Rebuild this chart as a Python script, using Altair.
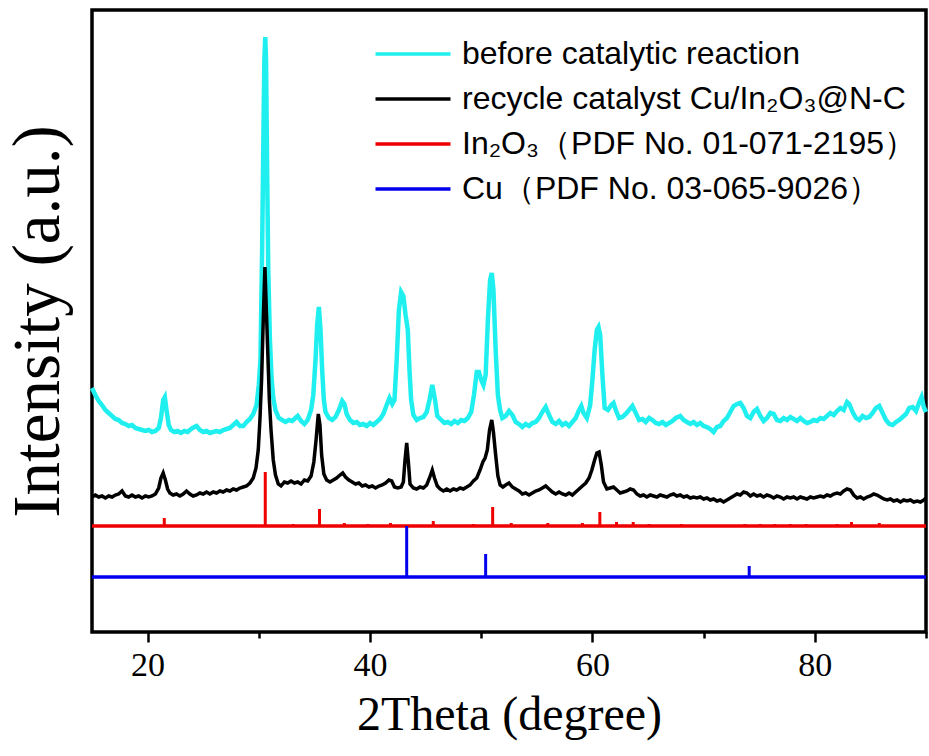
import altair as alt
import pandas as pd

# ---------------- data ----------------
series_names = [
    "before catalytic reaction",
    "recycle catalyst Cu/In\u2082O\u2083@N-C",
    "In\u2082O\u2083\uff08PDF No. 01-071-2195\uff09",
    "Cu\uff08PDF No. 03-065-9026\uff09",
]
series_colors = ["#1FEFEF", "#000000", "#EE0000", "#0000EE"]

theta_range = [15, 90]
major_ticks = [20, 40, 60, 80]
minor_ticks = [30, 50, 70, 90]

before_x = [15.0, 15.3, 15.6, 15.9, 16.2, 16.5, 16.8, 17.1, 17.4, 17.7, 18.0, 18.3, 18.6, 18.9, 19.2, 19.5, 19.8, 20.1, 20.4, 20.7,
            21.0, 21.2, 21.4, 21.55, 21.7, 21.9, 22.1, 22.4, 22.7, 23.0, 23.3, 23.6, 23.9, 24.2, 24.4, 24.7, 25.0, 25.3, 25.6, 25.9,
            26.2, 26.5, 26.8, 27.1, 27.4, 27.7, 28.0, 28.3, 28.6, 28.9, 29.2, 29.5, 29.8, 30.0, 30.15, 30.3, 30.4, 30.5, 30.58, 30.65,
            30.75, 30.85, 31.0, 31.15, 31.3, 31.5, 31.8, 32.1, 32.4, 32.7, 33.0, 33.3, 33.5, 33.8, 34.1, 34.4, 34.7, 34.9, 35.1, 35.25,
            35.4, 35.55, 35.7, 35.85, 36.0, 36.3, 36.6, 36.9, 37.2, 37.5, 37.7, 37.9, 38.2, 38.5, 38.8, 39.1, 39.4, 39.7, 40.0, 40.3,
            40.6, 40.9, 41.2, 41.5, 41.75, 42.0, 42.2, 42.4, 42.6, 42.8, 43.0, 43.2, 43.4, 43.55, 43.7, 43.9, 44.2, 44.5, 44.8, 45.1,
            45.35, 45.6, 45.85, 46.05, 46.4, 46.7, 47.0, 47.3, 47.6, 47.9, 48.2, 48.5, 48.8, 49.1, 49.35, 49.6, 49.8, 50.0, 50.2, 50.4,
            50.6, 50.8, 50.95, 51.1, 51.3, 51.5, 51.7, 51.9, 52.2, 52.5, 52.8, 53.1, 53.4, 53.7, 54.0, 54.3, 54.6, 54.9, 55.2, 55.5,
            55.8, 56.1, 56.4, 56.7, 57.0, 57.3, 57.6, 57.9, 58.2, 58.5, 58.8, 59.0, 59.2, 59.5, 59.8, 60.0, 60.2, 60.4, 60.55, 60.7,
            60.9, 61.1, 61.4, 61.7, 61.9, 62.1, 62.4, 62.7, 63.0, 63.3, 63.6, 63.9, 64.2, 64.5, 64.8, 65.1, 65.4, 65.7, 66.0, 66.3,
            66.6, 66.9, 67.2, 67.5, 67.9, 68.2, 68.5, 68.8, 69.1, 69.4, 69.7, 70.0, 70.3, 70.6, 70.9, 71.2, 71.5, 71.8, 72.1, 72.4,
            72.7, 73.0, 73.3, 73.6, 73.9, 74.2, 74.5, 74.8, 75.1, 75.4, 75.7, 76.0, 76.3, 76.6, 76.9, 77.2, 77.5, 77.8, 78.1, 78.4,
            78.7, 79.0, 79.3, 79.6, 79.9, 80.2, 80.5, 80.8, 81.1, 81.4, 81.7, 82.0, 82.3, 82.6, 82.9, 83.1, 83.4, 83.7, 84.0, 84.3,
            84.6, 84.9, 85.2, 85.5, 85.8, 86.1, 86.4, 86.7, 87.0, 87.3, 87.6, 87.9, 88.2, 88.5, 88.8, 89.1, 89.4, 89.6, 89.8, 90.0]
before_y = [244, 237, 231, 227, 222, 219, 216, 213, 212, 209, 208, 206, 207, 204, 203, 202, 201, 202, 200, 201,
            204, 214, 232, 235, 222, 207, 202, 200, 201, 199, 201, 200, 203, 205, 206, 202, 200, 201, 199, 200,
            201, 200, 202, 203, 204, 207, 210, 206, 206, 210, 213, 218, 227, 247, 272, 382, 482, 572, 595, 572,
            462, 362, 292, 254, 234, 222, 214, 212, 210, 212, 211, 214, 216, 211, 208, 212, 222, 237, 272, 307,
            325, 302, 262, 232, 220, 214, 212, 215, 222, 231, 228, 218, 212, 209, 210, 207, 208, 206, 209, 207,
            210, 213, 218, 227, 234, 228, 232, 272, 322, 340, 336, 317, 302, 262, 232, 217, 212, 214, 215, 220,
            232, 247, 232, 216, 212, 209, 210, 208, 211, 209, 212, 211, 214, 220, 237, 260, 260, 252, 247, 257,
            312, 352, 359, 342, 282, 237, 222, 214, 216, 221, 217, 210, 208, 205, 208, 206, 209, 210, 214, 220,
            225, 217, 210, 208, 211, 207, 209, 206, 210, 214, 222, 226, 219, 214, 227, 252, 282, 302, 305, 297,
            257, 224, 222, 227, 229, 222, 214, 215, 218, 222, 226, 219, 212, 213, 210, 214, 212, 209, 208, 210,
            207, 209, 211, 214, 216, 212, 210, 208, 210, 207, 209, 206, 205, 203, 200, 205, 206, 211, 214, 220,
            226, 228, 229, 224, 216, 214, 220, 223, 216, 211, 214, 219, 218, 212, 211, 214, 212, 215, 213, 211,
            214, 211, 209, 210, 212, 211, 214, 213, 216, 219, 217, 221, 224, 222, 230, 228, 220, 214, 212, 216,
            214, 215, 219, 224, 226, 219, 212, 208, 207, 210, 212, 215, 218, 224, 225, 221, 230, 235, 225, 220]

recycle_x = [15.0, 15.3, 15.6, 15.9, 16.2, 16.5, 16.8, 17.1, 17.4, 17.7, 18.0, 18.3, 18.6, 18.9, 19.2, 19.5, 19.8, 20.1, 20.4, 20.7,
             21.0, 21.2, 21.4, 21.6, 21.8, 22.0, 22.3, 22.6, 22.9, 23.2, 23.5, 23.8, 24.1, 24.4, 24.7, 25.0, 25.3, 25.6, 25.9, 26.2,
             26.5, 26.8, 27.1, 27.4, 27.7, 28.0, 28.3, 28.6, 28.9, 29.2, 29.5, 29.75, 29.95, 30.1, 30.25, 30.4, 30.55, 30.65, 30.8, 30.95,
             31.1, 31.3, 31.5, 31.75, 32.0, 32.3, 32.6, 32.9, 33.2, 33.5, 33.8, 34.1, 34.4, 34.7, 34.95, 35.15, 35.35, 35.5, 35.65, 35.85,
             36.1, 36.4, 36.7, 37.0, 37.3, 37.55, 37.8, 38.1, 38.4, 38.7, 39.0, 39.3, 39.6, 39.9, 40.2, 40.5, 40.8, 41.1, 41.4, 41.7,
             41.95, 42.2, 42.5, 42.8, 43.0, 43.15, 43.3, 43.45, 43.6, 43.9, 44.2, 44.5, 44.8, 45.1, 45.35, 45.6, 45.8, 46.05, 46.3, 46.6,
             46.9, 47.2, 47.5, 47.8, 48.1, 48.4, 48.7, 49.0, 49.3, 49.6, 49.9, 50.15, 50.35, 50.55, 50.75, 50.95, 51.1, 51.3, 51.5, 51.7,
             51.95, 52.2, 52.5, 52.8, 53.1, 53.4, 53.7, 54.0, 54.3, 54.6, 54.9, 55.2, 55.5, 55.8, 56.1, 56.4, 56.7, 57.0, 57.3, 57.6,
             57.9, 58.2, 58.5, 58.8, 59.1, 59.4, 59.7, 59.95, 60.2, 60.4, 60.6, 60.8, 61.0, 61.3, 61.6, 61.9, 62.2, 62.5, 62.8, 63.1,
             63.4, 63.7, 64.0, 64.3, 64.6, 64.9, 65.2, 65.5, 65.8, 66.1, 66.4, 66.7, 67.0, 67.3, 67.6, 67.9, 68.2, 68.5, 68.8, 69.1,
             69.4, 69.7, 70.0, 70.3, 70.6, 70.9, 71.2, 71.5, 71.8, 72.1, 72.4, 72.7, 73.0, 73.3, 73.6, 73.9, 74.2, 74.5, 74.8, 75.1,
             75.4, 75.7, 76.0, 76.3, 76.6, 76.9, 77.2, 77.5, 77.8, 78.1, 78.4, 78.7, 79.0, 79.3, 79.6, 79.9, 80.2, 80.5, 80.8, 81.1,
             81.4, 81.7, 82.0, 82.3, 82.6, 82.9, 83.2, 83.5, 83.8, 84.1, 84.4, 84.7, 85.0, 85.3, 85.6, 85.9, 86.2, 86.5, 86.8, 87.1,
             87.4, 87.7, 88.0, 88.3, 88.6, 88.9, 89.2, 89.5, 89.8, 90.0]
recycle_y = [135, 137, 135, 136, 134, 136, 135, 137, 138, 141, 136, 135, 137, 135, 136, 134, 136, 135, 136, 138,
             144, 154, 159, 152, 143, 139, 137, 138, 136, 138, 141, 138, 136, 137, 139, 138, 140, 138, 140, 139,
             141, 140, 142, 141, 143, 142, 144, 145, 146, 149, 154, 164, 182, 212, 252, 312, 365, 332, 282, 232,
             202, 172, 157, 148, 146, 150, 149, 151, 149, 150, 148, 152, 151, 156, 170, 192, 218, 207, 177, 158,
             152, 150, 152, 154, 157, 159, 155, 152, 150, 148, 149, 146, 147, 145, 146, 144, 146, 147, 149, 152,
             151, 145, 144, 145, 150, 172, 189, 170, 148, 144, 143, 145, 144, 147, 154, 162, 154, 146, 143, 141,
             143, 141, 143, 142, 144, 143, 145, 147, 151, 154, 162, 170, 174, 182, 202, 212, 200, 177, 156, 147,
             145, 147, 149, 145, 143, 141, 138, 139, 137, 139, 141, 142, 144, 146, 143, 140, 138, 140, 138, 137,
             139, 137, 140, 143, 146, 149, 154, 162, 172, 179, 180, 167, 150, 143, 144, 145, 142, 139, 140, 141,
             143, 142, 138, 136, 137, 135, 137, 136, 135, 137, 136, 135, 137, 138, 136, 137, 135, 136, 134, 135,
             134, 135, 133, 134, 132, 133, 131, 132, 130, 132, 134, 136, 138, 137, 140, 139, 136, 138, 136, 137,
             135, 137, 136, 134, 136, 135, 133, 135, 134, 135, 133, 135, 134, 133, 135, 134, 135, 136, 135, 137,
             136, 138, 139, 138, 141, 143, 142, 137, 134, 135, 133, 135, 136, 138, 137, 135, 133, 132, 133, 131,
             132, 130, 132, 131, 132, 130, 131, 130, 132, 134]

in2o3_base = 106
in2o3_pos = [21.5, 30.58, 33.1, 35.46, 37.69, 39.8, 41.84, 45.69, 49.3, 51.03, 52.7, 55.99, 59.1, 60.67, 62.17,
             63.67, 65.1, 68.0, 73.7, 75.1, 76.4, 77.8, 79.2, 82.0, 83.3, 85.8]
in2o3_h = [8, 54, 2, 17, 3, 2, 3, 5, 2, 19, 3, 3, 3, 14, 4, 4, 2, 2, 2, 2, 2, 2, 2, 2, 4, 3]

cu_base = 55
cu_pos = [43.3, 50.4, 74.1]
cu_h = [51, 23, 11]

# ---------------- tables ----------------
curves = pd.concat([
    pd.DataFrame({"theta": before_x, "intensity": before_y, "series": series_names[0]}),
    pd.DataFrame({"theta": recycle_x, "intensity": recycle_y, "series": series_names[1]}),
])
sticks = pd.concat([
    pd.DataFrame({"theta": in2o3_pos, "base": in2o3_base,
                  "top": [in2o3_base + h for h in in2o3_h], "series": series_names[2]}),
    pd.DataFrame({"theta": cu_pos, "base": cu_base,
                  "top": [cu_base + h for h in cu_h], "series": series_names[3]}),
])
baselines = pd.DataFrame({
    "x1": [theta_range[0]] * 2, "x2": [theta_range[1]] * 2,
    "base": [in2o3_base, cu_base], "series": series_names[2:],
})

# ---------------- encodings ----------------
xscale = alt.Scale(domain=theta_range, nice=False, zero=False)
yscale = alt.Scale(domain=[0, 622], nice=False, zero=True)

serif = "Liberation Serif"
major_axis = alt.Axis(values=major_ticks, title="2Theta (degree)", orient="bottom",
                      domain=False, grid=False, ticks=True, tickSize=10, tickWidth=2.5, tickColor="black",
                      labelFont=serif, labelFontSize=34, labelColor="black", labelPadding=6,
                      titleFont=serif, titleFontSize=48, titleFontWeight="normal", titleColor="black",
                      titlePadding=9)
minor_axis = alt.Axis(values=minor_ticks, title=None, orient="bottom", labels=False,
                      domain=False, grid=False, ticks=True, tickSize=6, tickWidth=2.5, tickColor="black")
y_axis = alt.Axis(title="Intensity (a.u.)", labels=False, ticks=False, domain=False, grid=False,
                  titleFont=serif, titleFontSize=67, titleFontWeight="normal", titleColor="black",
                  titlePadding=20)

# long horizontal line symbol (3x the nominal symbol width) so rows stay compact
legend = alt.Legend(title=None, orient="none", legendX=305, legendY=28,
                    symbolType="M-3,0L3,0", symbolSize=625, symbolStrokeWidth=3.5,
                    symbolFillColor="transparent",
                    labelFont="Liberation Sans", labelFontSize=32, labelColor="black",
                    labelOffset=33, labelLimit=700, rowPadding=13)
color = alt.Color("series:N", scale=alt.Scale(domain=series_names, range=series_colors), legend=legend)

base_layer = alt.Chart(baselines).mark_rule(strokeWidth=3.5).encode(
    x=alt.X("x1:Q", scale=xscale, axis=major_axis),
    x2="x2:Q",
    y=alt.Y("base:Q", scale=yscale, axis=y_axis),
    color=color,
)
stick_layer = alt.Chart(sticks).mark_rule(strokeWidth=3).encode(
    x=alt.X("theta:Q", scale=xscale, axis=minor_axis),
    y=alt.Y("base:Q", scale=yscale, axis=y_axis),
    y2="top:Q",
    color=color,
)
black_layer = alt.Chart(curves[curves.series == series_names[1]]).mark_line(strokeWidth=3.5).encode(
    x=alt.X("theta:Q", scale=xscale, axis=None),
    y=alt.Y("intensity:Q", scale=yscale, axis=y_axis),
    color=color,
)
cyan_layer = alt.Chart(curves[curves.series == series_names[0]]).mark_line(strokeWidth=4.5).encode(
    x=alt.X("theta:Q", scale=xscale, axis=None),
    y=alt.Y("intensity:Q", scale=yscale, axis=y_axis),
    color=color,
)

chart = (
    alt.layer(base_layer, stick_layer, cyan_layer, black_layer)
    .resolve_axis(x="independent")
    .properties(width=834, height=622,
                padding={"left": 92, "top": 10, "right": 3, "bottom": 124},
                autosize=alt.AutoSizeParams(type="none"),
                background="white")
    .configure_view(stroke="black", strokeWidth=3.5)
)

chart.save("out.html", embed_options={"renderer": "svg", "actions": False})
